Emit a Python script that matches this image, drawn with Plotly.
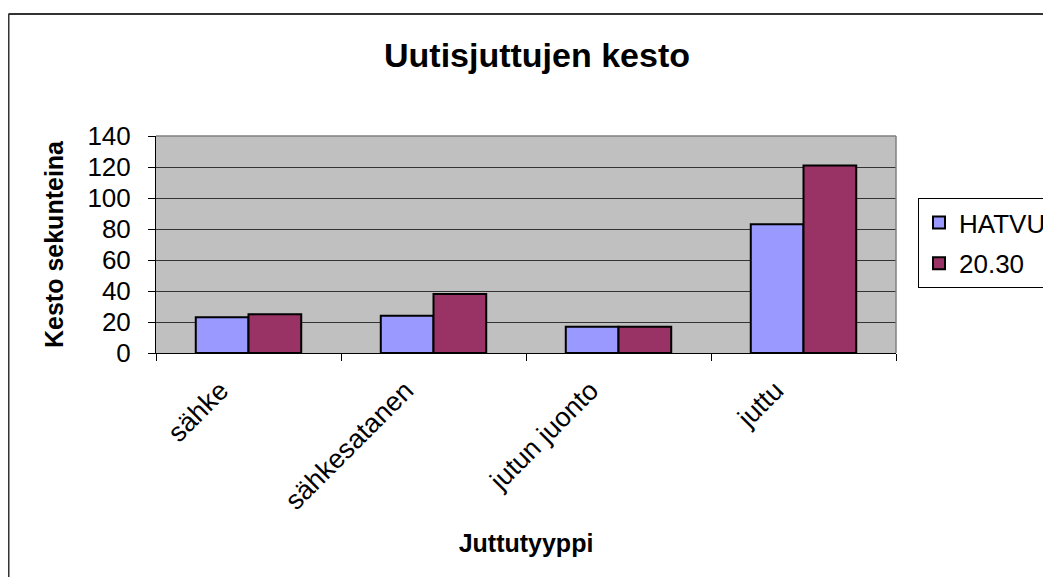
import plotly.graph_objects as go

# data
categories = ["sähke", "sähkesatanen", "jutun juonto", "juttu"]
hatvu = [23, 24, 17, 83]
klo_2030 = [25, 38, 17, 121]
y_ticks = [0, 20, 40, 60, 80, 100, 120, 140]

FONT = "Liberation Sans, Arial, sans-serif"

fig = go.Figure()
fig.add_trace(go.Bar(
    x=categories, y=hatvu, name="HATVU", legendgroup="a",
    marker=dict(color="#9999FF", line=dict(color="black", width=2)),
))
fig.add_trace(go.Bar(
    x=categories, y=klo_2030, name="20.30", legendgroup="b",
    marker=dict(color="#993366", line=dict(color="black", width=2)),
))

# the page has an 8px body margin, so the figure is 8px smaller and shifted
W, H = 1043, 569
L, T = 148, 128          # plot area 148..888 x 128..345 in figure px
R, B = W - 888, H - 345
pw, ph = W - L - R, H - T - B

fig.update_layout(
    width=W, height=H,
    margin=dict(l=L, r=R, t=T, b=B, autoexpand=False),
    paper_bgcolor="white",
    plot_bgcolor="#C0C0C0",
    font=dict(family=FONT, color="black", size=26),
    barmode="group", bargap=0.43, bargroupgap=0,
    title=dict(text="<b>Uutisjuttujen kesto</b>", x=529 / W, xanchor="center",
               y=1 - 47 / H, yanchor="middle", yref="container",
               font=dict(size=34, family=FONT)),
    legend=dict(x=(910 - L) / pw, xanchor="left", y=(345 - 190) / ph, yanchor="top",
                bordercolor="black", borderwidth=1, bgcolor="white",
                font=dict(size=26, family=FONT), itemwidth=30, tracegroupgap=4),
    showlegend=True,
)

fig.update_xaxes(
    showline=True, linecolor="black", linewidth=1,
    ticks="outside", tickson="boundaries", ticklen=7, tickcolor="black",
    tickangle=-45, tickfont=dict(size=27),
    ticklabelshift=-28, ticklabelstandoff=10,
    title=dict(text="<b>Juttutyyppi</b>", font=dict(size=25), standoff=19),
    showgrid=False, automargin=False,
)
fig.update_yaxes(
    range=[0, 140], tickvals=y_ticks, showline=True, linecolor="black", linewidth=1,
    ticks="outside", ticklen=7, tickcolor="black", tickfont=dict(size=26),
    ticklabelstandoff=12,
    showgrid=True, gridcolor="#333333", gridwidth=1, zeroline=False,
    title=dict(text="<b>Kesto sekunteina</b>", font=dict(size=25), standoff=16),
    automargin=False,
)

# grey frame on top/right of the plot area and the chart-area border
fig.add_shape(type="line", xref="paper", yref="paper", x0=0, x1=1, y0=1, y1=1,
              line=dict(color="#808080", width=1.5))
fig.add_shape(type="line", xref="paper", yref="paper", x0=1, x1=1, y0=0, y1=1,
              line=dict(color="#808080", width=1.5))
bx = (0.5 - L) / pw
by = (345 - 6) / ph
fig.add_shape(type="line", xref="paper", yref="paper", x0=bx, x1=bx, y0=by, y1=-2,
              line=dict(color="#333333", width=2))
fig.add_shape(type="line", xref="paper", yref="paper", x0=bx, x1=2, y0=by, y1=by,
              line=dict(color="#333333", width=2))

fig.write_html("out.html")
